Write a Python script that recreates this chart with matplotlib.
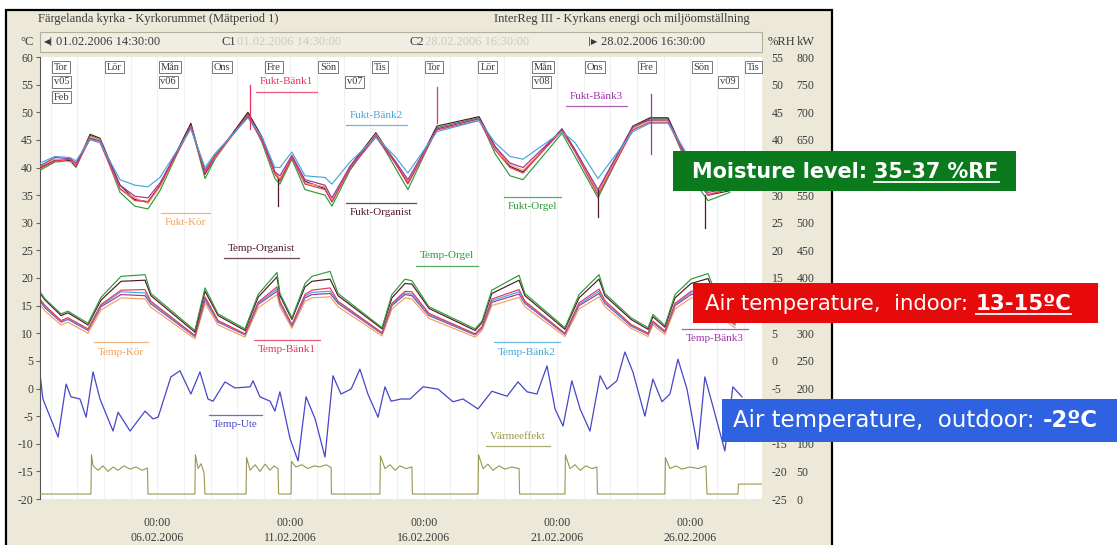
import matplotlib
matplotlib.use("Agg")
import matplotlib.pyplot as plt
from matplotlib.patches import Rectangle
from matplotlib.lines import Line2D

plt.rcParams["axes.unicode_minus"] = False

W, H = 1117, 545
BEIGE = "#ece9d8"
TXT = "#3a3a3a"
SERIF = "Liberation Serif"

# time = days since first sample 01.02.2006 14:30, last sample 28.02.2006 16:30
T_END = 27.083
FEB_OFFSET = 1.604  # day-of-month d at 00:00 -> t = d - FEB_OFFSET

# ---- relative humidity (%RH) ----
H_T = [0.00, 0.56, 1.13, 1.35, 1.88, 2.25, 3.00, 3.56, 4.05, 4.50,
       5.66, 6.19, 6.56, 7.80, 8.33, 8.81, 9.00, 9.45, 9.94, 10.69,
       10.95, 11.63, 12.60, 13.32, 13.80, 14.89, 16.47, 17.07, 17.63, 18.12,
       19.58, 20.07, 20.93, 22.24, 22.88, 23.56, 24.01, 24.76, 25.06, 25.88]
fukt_kor = [35.2, 36.5, 36.0, 35.8, 40.5, 40.0, 31.0, 29.5, 28.5, 31.5,
            42.5, 34.2, 36.8, 44.5, 40.0, 34.0, 33.0, 37.0, 32.2, 31.5,
            29.0, 35.0, 41.0, 36.2, 32.5, 42.0, 43.8, 38.5, 35.5, 34.5,
            41.5, 38.0, 30.5, 42.0, 43.5, 43.5, 39.0, 32.0, 30.2, 31.0]
fukt_bank1 = [34.8, 36.2, 36.5, 35.2, 40.2, 39.5, 31.2, 29.0, 28.8, 31.8,
              42.2, 34.0, 37.0, 44.2, 39.8, 33.8, 32.5, 36.8, 32.0, 31.0,
              28.8, 34.8, 40.5, 35.8, 32.0, 41.8, 43.5, 38.2, 35.0, 34.0,
              41.8, 37.8, 30.0, 41.8, 43.2, 43.2, 38.8, 31.8, 30.0, 31.2]
fukt_bank2 = [35.8, 37.0, 36.8, 36.2, 40.0, 39.5, 32.8, 31.8, 31.5, 33.2,
              42.0, 35.0, 37.5, 44.0, 40.5, 35.0, 35.0, 37.8, 33.5, 33.2,
              32.0, 36.0, 40.5, 37.0, 34.0, 41.5, 43.5, 39.5, 37.0, 36.5,
              41.5, 39.5, 33.0, 41.5, 43.0, 43.0, 39.5, 33.5, 31.5, 32.0]
fukt_bank3 = [35.3, 36.8, 36.6, 35.8, 40.3, 39.8, 31.8, 29.8, 29.5, 32.2,
              42.4, 34.5, 37.2, 44.4, 40.2, 34.2, 33.5, 37.2, 32.8, 31.8,
              29.5, 35.2, 40.8, 36.2, 32.8, 42.0, 43.8, 38.8, 35.8, 35.0,
              41.8, 38.2, 31.0, 42.5, 43.6, 43.6, 39.2, 32.2, 30.5, 31.2]
fukt_organist = [35.0, 36.3, 36.3, 35.3, 41.0, 40.3, 31.8, 29.2, 28.8, 31.8,
                 43.0, 33.8, 36.8, 45.0, 40.5, 34.2, 32.8, 37.0, 32.5, 31.2,
                 28.8, 35.2, 41.3, 36.0, 32.2, 42.5, 44.2, 38.8, 35.2, 34.2,
                 42.0, 38.2, 30.5, 42.5, 44.0, 44.0, 39.3, 32.0, 30.0, 30.8]
fukt_orgel = [34.5, 36.0, 36.2, 35.0, 40.8, 40.0, 30.5, 28.0, 27.5, 30.8,
              42.8, 33.0, 36.5, 44.8, 39.5, 33.0, 32.0, 36.5, 31.0, 30.0,
              28.0, 34.5, 41.0, 35.0, 31.0, 42.2, 44.0, 37.5, 33.5, 32.8,
              41.2, 37.0, 29.5, 42.2, 43.8, 43.8, 38.5, 31.0, 29.0, 30.5]
# single-sample spikes: time, from, to (%RH), series index
SPIKE_T = [7.88, 14.89, 22.92, 8.93, 20.93, 24.94]
SPIKE_LO = [42.0, 43.0, 37.4, 28.0, 26.0, 24.0]
SPIKE_HI = [50.0, 49.6, 48.3, 33.0, 31.0, 30.0]
SPIKE_S = [1, 1, 3, 4, 4, 4]

# ---- indoor temperature (degC) ----
T_T = [0.00, 0.19, 0.79, 1.05, 1.80, 2.29, 3.04, 3.94, 4.16, 5.81,
       6.19, 6.68, 7.69, 8.18, 8.89, 9.00, 9.45, 9.94, 10.20, 10.88,
       11.18, 12.83, 13.20, 13.69, 13.95, 14.59, 16.32, 16.58, 16.95, 17.97,
       18.19, 19.69, 20.22, 20.97, 21.19, 22.17, 22.81, 22.99, 23.44, 23.82,
       24.42, 25.06, 25.51, 26.07]
temp_orgel = [17.5, 16.2, 13.5, 14.0, 11.8, 16.5, 20.3, 20.6, 17.2, 10.5,
              18.2, 13.5, 10.8, 17.0, 21.0, 17.2, 12.8, 19.0, 20.3, 21.2,
              17.2, 11.0, 17.0, 19.8, 19.5, 14.8, 10.8, 12.2, 17.8, 20.5,
              17.2, 11.0, 17.0, 20.6, 17.2, 12.8, 11.0, 13.4, 11.4, 17.0,
              19.8, 20.8, 15.0, 12.8]
temp_organist = [17.2, 16.0, 13.2, 13.7, 11.5, 16.0, 19.4, 19.6, 16.8, 10.2,
                 17.6, 13.2, 10.5, 16.5, 20.2, 16.8, 12.5, 18.4, 19.4, 19.8,
                 16.8, 10.8, 16.4, 19.0, 18.9, 14.5, 10.5, 11.9, 17.2, 19.6,
                 16.8, 10.7, 16.4, 19.8, 16.8, 12.5, 10.7, 13.0, 11.1, 16.4,
                 19.0, 19.9, 14.6, 12.5]
temp_bank1 = [16.2, 15.0, 12.3, 12.8, 10.8, 15.2, 17.8, 17.9, 15.8, 9.6,
              16.6, 12.3, 9.9, 15.6, 18.4, 15.8, 11.6, 17.0, 17.8, 18.2,
              15.8, 10.1, 15.4, 17.6, 17.5, 13.6, 9.9, 11.2, 16.2, 17.9,
              15.8, 10.0, 15.5, 18.0, 15.9, 11.6, 10.0, 12.2, 10.4, 15.4,
              17.6, 18.0, 13.8, 11.8]
temp_bank2 = [16.0, 14.8, 12.1, 12.6, 10.6, 15.0, 17.5, 17.3, 15.5, 9.5,
              16.3, 12.1, 9.8, 15.4, 18.0, 15.6, 11.4, 16.7, 17.4, 17.6,
              15.6, 10.0, 15.2, 17.3, 17.1, 13.4, 9.8, 11.0, 15.9, 17.5,
              15.6, 9.9, 15.2, 17.6, 15.6, 11.4, 9.9, 12.0, 10.3, 15.2,
              17.3, 17.6, 13.7, 11.6]
temp_bank3 = [15.8, 14.6, 12.0, 12.5, 10.5, 14.8, 17.0, 16.8, 15.3, 9.4,
              16.0, 12.0, 9.7, 15.2, 17.6, 15.4, 11.3, 16.4, 17.0, 17.2,
              15.4, 9.9, 15.0, 17.0, 16.8, 13.2, 9.7, 10.9, 15.6, 17.1,
              15.4, 9.8, 15.0, 17.2, 15.4, 11.3, 9.8, 11.9, 10.2, 15.0,
              17.0, 17.2, 13.5, 11.5]
temp_kor = [15.2, 14.0, 11.5, 12.0, 10.0, 14.2, 16.4, 16.2, 14.7, 9.0,
            15.4, 11.5, 9.3, 14.6, 17.0, 14.8, 10.9, 15.8, 16.4, 16.6,
            14.8, 9.5, 14.4, 16.4, 16.2, 12.7, 9.3, 10.5, 15.0, 16.5,
            14.8, 9.4, 14.4, 16.6, 14.8, 10.9, 9.4, 11.5, 9.8, 14.4,
            16.4, 16.6, 13.0, 11.0]

# ---- outdoor temperature (degC) ----
UTE_T = [0.00, 0.11, 0.68, 0.98, 1.16, 1.50, 1.73, 1.99, 2.25, 2.74,
         2.93, 3.38, 3.94, 4.24, 4.43, 4.91, 5.25, 5.66, 6.00, 6.30,
         6.49, 6.94, 7.31, 7.88, 7.99, 8.25, 8.63, 8.81, 9.00, 9.38,
         9.68, 9.98, 10.32, 10.69, 10.99, 11.29, 11.67, 12.00, 12.30, 12.68,
         12.94, 13.17, 13.54, 13.88, 14.37, 14.93, 15.49, 15.87, 16.43, 16.95,
         17.52, 17.93, 18.27, 18.64, 19.02, 19.32, 19.62, 19.95, 20.26, 20.63,
         21.01, 21.27, 21.64, 21.94, 22.24, 22.69, 22.99, 23.33, 23.63, 23.93,
         24.27, 24.68, 24.94, 25.24, 25.69, 25.99, 26.33]
temp_ute = [2.6, -1.9, -8.8, 0.8, -1.5, -1.9, -5.2, 3.0, -1.9, -7.7,
            -4.3, -7.7, -4.1, -5.5, -5.2, 2.1, 3.2, -1.0, 3.0, -1.9,
            -2.3, 1.2, 0.1, 0.3, 1.4, -1.5, -2.3, -4.1, -0.6, -9.1,
            -13.1, -1.5, -5.5, -12.4, 2.3, -1.0, -0.1, 3.5, -1.0, -5.2,
            0.3, -2.3, -1.9, -1.9, 0.3, -0.1, -2.4, -1.9, -3.7, -0.5,
            -1.4, 1.2, -0.6, -1.0, 4.1, -3.7, -6.8, 1.4, -3.7, -7.7,
            2.3, -0.1, 1.4, 6.6, 3.0, -5.0, 1.7, -2.4, -1.0, 5.3,
            -0.1, -11.0, 2.1, -3.2, -11.3, 0.3, -1.5]

# ---- heating power (kW) ----
P_T = [0.00, 1.91, 1.93, 1.99, 2.18, 2.36, 2.55, 2.74, 2.93, 3.15, 3.38, 3.60, 3.83, 4.03, 4.05,
       5.81, 5.83, 5.93, 6.04, 6.15, 6.19,
       7.73, 7.75, 7.88, 8.07, 8.25, 8.44, 8.63, 8.78, 8.93, 8.95,
       9.42, 9.43, 9.60, 9.83, 10.05, 10.28, 10.50, 10.73, 10.92, 10.93,
       12.75, 12.77, 12.94, 13.13, 13.32, 13.50, 13.73, 13.95, 13.97,
       16.43, 16.45, 16.62, 16.80, 16.99, 17.22, 17.44, 17.70, 17.97, 17.99,
       19.69, 19.71, 19.88, 20.07, 20.26, 20.48, 20.71, 20.89, 20.91,
       23.44, 23.46, 23.63, 23.86, 24.08, 24.38, 24.68, 24.98, 25.02,
       26.18, 26.20, 27.08]
varmeeffekt = [9, 9, 80, 60, 52, 60, 50, 58, 52, 60, 54, 58, 52, 56, 9,
               9, 80, 55, 64, 48, 9,
               9, 75, 52, 62, 50, 63, 52, 60, 55, 9,
               9, 68, 58, 62, 55, 60, 58, 62, 57, 9,
               9, 78, 55, 62, 52, 60, 55, 58, 9,
               9, 80, 55, 63, 52, 60, 54, 58, 55, 9,
               9, 80, 55, 62, 52, 60, 55, 58, 9,
               9, 75, 55, 60, 54, 58, 55, 60, 9,
               9, 27, 27]

XTICK_DAYS = [6, 11, 16, 21, 26]
DAY_DATES = [2, 4, 6, 8, 10, 12, 14, 16, 18, 20, 22, 24, 26, 28]
DAY_LABELS = ["Tor", "Lör", "Mån", "Ons", "Fre", "Sön", "Tis",
              "Tor", "Lör", "Mån", "Ons", "Fre", "Sön", "Tis"]
WEEK_DATES = [2, 6, 13, 20, 27]
WEEK_LABELS = ["v05", "v06", "v07", "v08", "v09"]

C_KOR, C_B1, C_B2, C_B3 = "#f2a15a", "#e8345e", "#45a8d8", "#9b35a8"
C_ORG, C_ORGEL, C_UTE, C_VE = "#4e1a24", "#2f9a3a", "#4646c8", "#9a9650"

fig = plt.figure(figsize=(W / 100, H / 100), dpi=100)
fig.patch.set_facecolor("white")


def px_box(x0, y0, x1, y1, **kw):
    r = Rectangle((x0 / W, 1 - y1 / H), (x1 - x0) / W, (y1 - y0) / H,
                  transform=fig.transFigure, **kw)
    fig.add_artist(r)


px_box(6, 10, 832, 548, fc=BEIGE, ec="black", lw=1.6, zorder=0)
px_box(40, 32, 762, 52, fc="#f0eee3", ec="#b3af9a", lw=0.8, zorder=1)

ax = fig.add_axes([40 / W, 1 - 499 / H, 722 / W, 442 / H])
ax.set_facecolor("white")
ax.set_xlim(0, T_END)
ax.set_ylim(-20, 60)
ax.set_yticks(range(-20, 61, 5))
ax.tick_params(axis="y", length=3, color="#666", labelcolor=TXT, labelsize=8.5, pad=2)
ax.set_xticks([d - FEB_OFFSET for d in XTICK_DAYS])
ax.set_xticklabels(["00:00\n%02d.02.2006" % d for d in XTICK_DAYS])
ax.tick_params(axis="x", length=0, labelcolor=TXT, labelsize=8.5, pad=13)
for lab in ax.get_xticklabels() + ax.get_yticklabels():
    lab.set_family(SERIF)
    lab.set_linespacing(1.35)
for s in ["top", "bottom", "right"]:
    ax.spines[s].set_visible(False)
ax.spines["left"].set_color("#555")

for d in range(2, 29):
    ax.axvline(d - FEB_OFFSET, color="#f0f0f0", lw=0.8, zorder=0)

ax2 = ax.twinx()
ax2.set_ylim(-25, 55)
ax2.set_yticks(range(-25, 56, 5))
ax3 = ax.twinx()
ax3.set_ylim(0, 800)
ax3.set_yticks(range(0, 801, 50))
for a, pad in [(ax2, 7), (ax3, 25)]:
    a.set_xlim(0, T_END)
    a.tick_params(axis="y", length=0, labelcolor=TXT, labelsize=8.5, pad=pad)
    for lab in a.get_yticklabels():
        lab.set_family(SERIF)
    for s in a.spines.values():
        s.set_visible(False)

# humidity
for vals, c in [(fukt_orgel, C_ORGEL), (fukt_organist, C_ORG), (fukt_kor, C_KOR),
                (fukt_bank3, C_B3), (fukt_bank1, C_B1), (fukt_bank2, C_B2)]:
    ax2.plot(H_T, vals, color=c, lw=0.85)
hcols = [C_KOR, C_B1, C_B2, C_B3, C_ORG, C_ORGEL]
for t, lo, hi, s in zip(SPIKE_T, SPIKE_LO, SPIKE_HI, SPIKE_S):
    ax2.plot([t, t], [lo, hi], color=hcols[s], lw=0.9)

# indoor temperature
for vals, c in [(temp_kor, C_KOR), (temp_bank3, C_B3), (temp_bank2, C_B2),
                (temp_bank1, C_B1), (temp_organist, C_ORG), (temp_orgel, C_ORGEL)]:
    ax.plot(T_T, vals, color=c, lw=0.85)

ax.plot(UTE_T, temp_ute, color=C_UTE, lw=0.9)
ax3.plot(P_T, varmeeffekt, color=C_VE, lw=0.8)

# calendar boxes
xt = ax.get_xaxis_transform()
box = dict(boxstyle="square,pad=0.18", fc="white", ec="#777", lw=0.7)
for d, lab in zip(DAY_DATES, DAY_LABELS):
    ax.text(d - FEB_OFFSET + 0.12, (499 - 67) / 442, lab, transform=xt, fontsize=7.5,
            family=SERIF, va="center", color=TXT, bbox=box)
for d, lab in zip(WEEK_DATES, WEEK_LABELS):
    ax.text(d - FEB_OFFSET + 0.12, (499 - 82) / 442, lab, transform=xt, fontsize=7.5,
            family=SERIF, va="center", color=TXT, bbox=box)
ax.text(2 - FEB_OFFSET + 0.12, (499 - 97) / 442, "Feb", transform=xt, fontsize=7.5,
        family=SERIF, va="center", color=TXT, bbox=box)

renderer = fig.canvas.get_renderer()


def series_label(t, v, text, color, above):
    txt = ax.text(t, v, text, color=color, fontsize=8, family=SERIF, va="center")
    bb = txt.get_window_extent(renderer)
    inv = ax.transData.inverted()
    x0 = inv.transform((bb.x0 - 4, 0))[0]
    x1 = inv.transform((bb.x1 + 4, 0))[0]
    dv = 1.75 if above else -1.75
    ax.plot([x0, x1], [v + dv] * 2, color=color, lw=0.9, alpha=0.8)


series_label(8.25, 55.5, "Fukt-Bänk1", C_B1, False)
series_label(11.63, 49.5, "Fukt-Bänk2", C_B2, False)
series_label(19.88, 52.8, "Fukt-Bänk3", C_B3, False)
series_label(4.69, 30.0, "Fukt-Kör", C_KOR, True)
series_label(11.63, 31.8, "Fukt-Organist", C_ORG, True)
series_label(17.55, 33.0, "Fukt-Orgel", C_ORGEL, True)
series_label(7.05, 25.4, "Temp-Organist", C_ORG, False)
series_label(14.25, 24.0, "Temp-Orgel", C_ORGEL, False)
series_label(2.18, 6.6, "Temp-Kör", C_KOR, True)
series_label(8.18, 7.0, "Temp-Bänk1", C_B1, True)
series_label(17.18, 6.6, "Temp-Bänk2", C_B2, True)
series_label(24.23, 9.1, "Temp-Bänk3", C_B3, True)
series_label(6.49, -6.6, "Temp-Ute", C_UTE, True)
series_label(16.88, -8.6, "Värmeeffekt", C_VE, False)


# header texts
def ftext(x, y, s, **kw):
    kw.setdefault("family", SERIF)
    kw.setdefault("fontsize", 9)
    kw.setdefault("color", TXT)
    kw.setdefault("va", "center")
    fig.text(x / W, 1 - y / H, s, **kw)


ftext(38, 19, "Färgelanda kyrka - Kyrkorummet (Mätperiod 1)")
ftext(750, 19, "InterReg III - Kyrkans energi och miljöomställning", ha="right")
ftext(20, 42, "°C")
ftext(44, 42, "◀|", family="DejaVu Sans", fontsize=6)
ftext(56, 42, "01.02.2006 14:30:00")
ftext(222, 42, "C1")
ftext(237, 42, "01.02.2006 14:30:00", color="#cdcab9")
ftext(410, 42, "C2")
ftext(425, 42, "28.02.2006 16:30:00", color="#cdcab9")
ftext(588, 42, "|▶", family="DejaVu Sans", fontsize=6)
ftext(601, 42, "28.02.2006 16:30:00")
ftext(768, 42, "%RH")
ftext(797, 42, "kW")


# annotation banners
def banner(x0, y0, x1, y1, color, tx, base, width, parts):
    px_box(x0, y0, x1, y1, fc=color, ec="none", zorder=10)
    total = 0
    for s, bold, _ in parts:
        t = fig.text(0, 0, s, fontsize=10, fontweight="bold" if bold else "normal")
        total += t.get_window_extent(renderer).width
        t.remove()
    gap = 10 * 0.35 * 100 / 72
    total += gap * (len(parts) - 1)
    size = 10 * width / total
    x = tx
    for s, bold, uline in parts:
        t = fig.text(x / W, 1 - base / H, s, fontsize=size, color="white", va="baseline",
                     fontweight="bold" if bold else "normal", zorder=11)
        bb = t.get_window_extent(renderer)
        if uline:
            fig.add_artist(Line2D([bb.x0 / W, bb.x1 / W], [(H - base - 3.5) / H] * 2,
                                  color="white", lw=1.3, zorder=11))
        x += bb.width + gap * size / 10


banner(673, 151, 1016, 191, "#0b7a1d", 692, 178, 306,
       [("Moisture level:", True, False), ("35-37 %RF", True, True)])
banner(693, 283, 1098, 323, "#e60a0a", 705, 310, 367,
       [("Air temperature,  indoor:", False, False), ("13-15ºC", True, True)])
banner(722, 399, 1117, 442, "#2e62e0", 733, 427, 364,
       [("Air temperature,  outdoor:", False, False), ("-2ºC", True, False)])

fig.savefig("out.png", dpi=100)
